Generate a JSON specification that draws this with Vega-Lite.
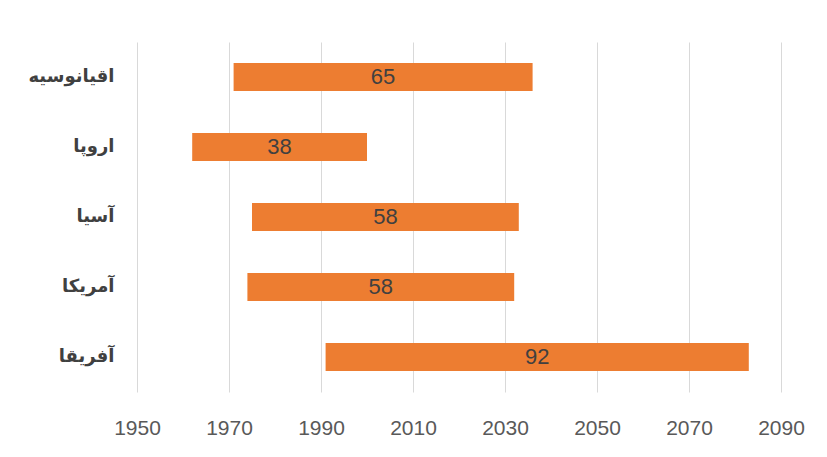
{
  "$schema": "https://vega.github.io/schema/vega-lite/v6.json",
  "width": 644,
  "height": 350,
  "autosize": {"type": "none"},
  "padding": {"left": 137, "top": 42, "right": 46, "bottom": 65},
  "background": "white",
  "config": {"view": {"stroke": null}},
  "data": {
    "values": [
      {"region": "اقیانوسیه", "start": 1971, "end": 2036, "duration": 65},
      {"region": "اروپا", "start": 1962, "end": 2000, "duration": 38},
      {"region": "آسیا", "start": 1975, "end": 2033, "duration": 58},
      {"region": "آمریکا", "start": 1974, "end": 2032, "duration": 58},
      {"region": "آفریقا", "start": 1991, "end": 2083, "duration": 92}
    ]
  },
  "encoding": {
    "y": {
      "field": "region",
      "type": "nominal",
      "sort": null,
      "scale": {"paddingInner": 0.6, "paddingOuter": 0.3},
      "axis": {
        "title": null,
        "domain": false,
        "ticks": false,
        "labelPadding": 23,
        "labelFontSize": 18,
        "labelFont": "DejaVu Sans",
        "labelColor": "#404040",
        "labelFontWeight": "bold"
      }
    }
  },
  "layer": [
    {
      "mark": {"type": "bar", "color": "#ED7D31"},
      "encoding": {
        "x": {
          "field": "start",
          "type": "quantitative",
          "scale": {"domain": [1950, 2090], "nice": false, "zero": false},
          "axis": {
            "title": null,
            "values": [1950, 1970, 1990, 2010, 2030, 2050, 2070, 2090],
            "format": "d",
            "domain": false,
            "ticks": false,
            "grid": true,
            "gridColor": "#d9d9d9",
            "gridWidth": 1,
            "labelFlush": false,
            "labelFontSize": 21,
            "labelFont": "Liberation Sans",
            "labelColor": "#595959",
            "labelPadding": 25
          }
        },
        "x2": {"field": "end"}
      }
    },
    {
      "transform": [
        {"fold": ["start", "end"], "as": ["edge", "year"]}
      ],
      "mark": {"type": "text", "fontSize": 22, "font": "Liberation Sans", "color": "#404040", "baseline": "middle", "align": "center"},
      "encoding": {
        "x": {"aggregate": "mean", "field": "year", "type": "quantitative"},
        "text": {"field": "duration", "type": "quantitative"}
      }
    }
  ]
}
